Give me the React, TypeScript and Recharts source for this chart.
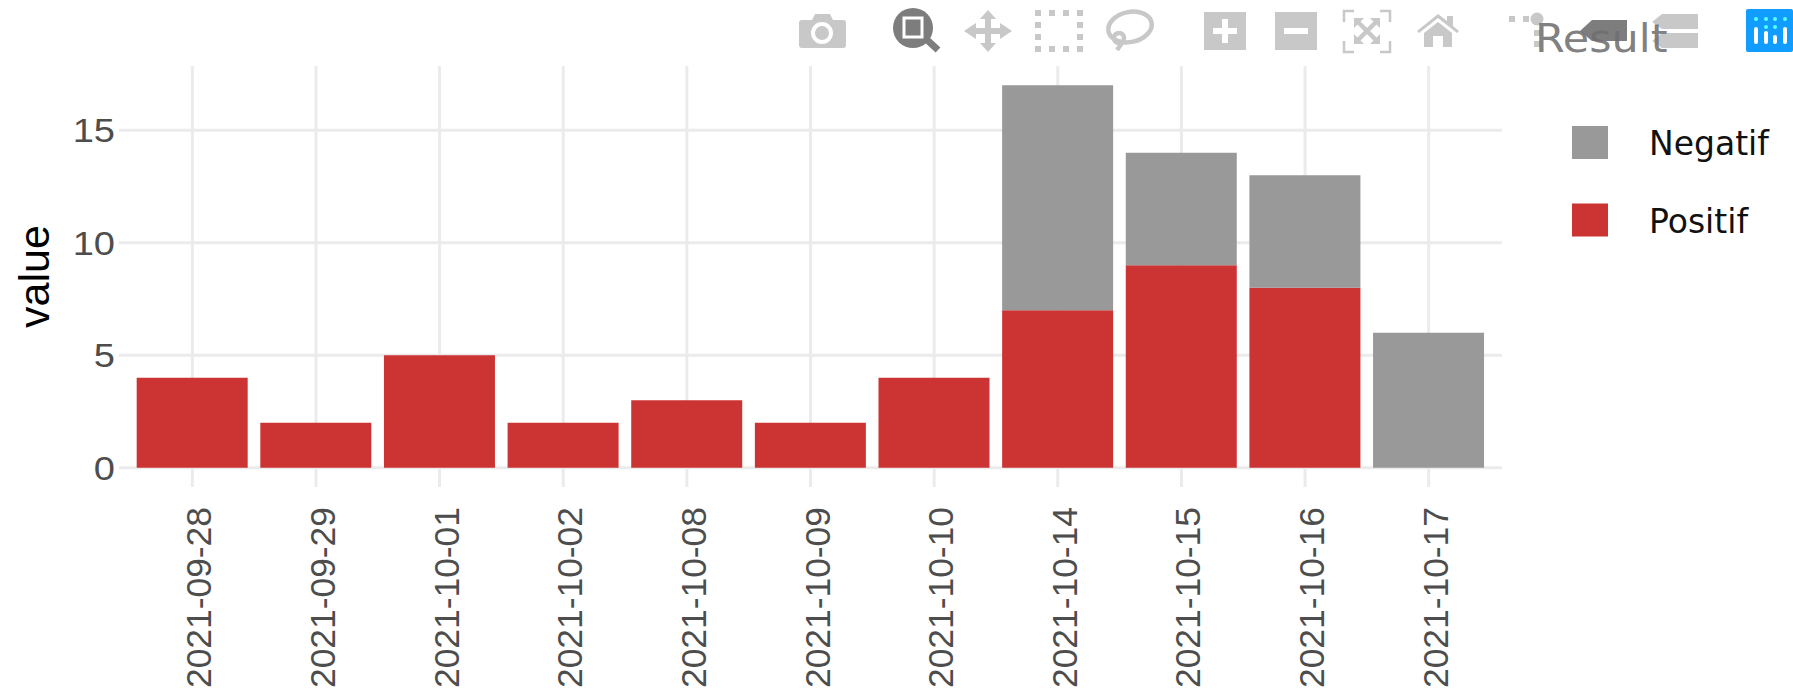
import { BarChart, Bar, XAxis, YAxis, CartesianGrid, Legend } from 'recharts';

const dates = ['2021-09-28', '2021-09-29', '2021-10-01', '2021-10-02', '2021-10-08', '2021-10-09', '2021-10-10', '2021-10-14', '2021-10-15', '2021-10-16', '2021-10-17'];
const positif = [4, 2, 5, 2, 3, 2, 4, 7, 9, 8, 0];
const negatif = [0, 0, 0, 0, 0, 0, 0, 10, 5, 5, 6];
const yTicks = [0, 5, 10, 15];
const yDomain = [-0.85, 17.85];

const chartData = dates.map((date, i) => ({ date, Positif: positif[i], Negatif: negatif[i] }));

const RED = '#cc3333';
const GREY = '#999999';
const ICON = '#c8c8c8';
const ICON_ON = '#7d7d7d';

function XTick({ x, payload }: any) {
    return (
        <text
            transform={`translate(${x + 19}, 507) rotate(-90)`}
            textAnchor="end"
            fontFamily="Liberation Sans"
            fontSize={35.4}
            fill="#4d4d4d"
        >
            {payload.value}
        </text>
    );
}

function YTick({ y, payload }: any) {
    return (
        <text
            transform={`translate(115, ${y + 12}) scale(1.12, 1)`}
            textAnchor="end"
            fontFamily="Liberation Sans"
            fontSize={34}
            fill="#4d4d4d"
        >
            {payload.value}
        </text>
    );
}

function ResultLegend({ payload }: any) {
    return (
        <svg width={221} height={130} style={{ display: 'block', overflow: 'visible' }}>
            {(payload || []).map((item: any, i: number) => (
                <g key={item.value} transform={`translate(0, ${i * 77.5})`}>
                    <rect x={0} y={0} width={36} height={33} fill={item.color} />
                    <text x={77} y={29} fontFamily="DejaVu Sans" fontSize={33} fill="#111">
                        {item.value}
                    </text>
                </g>
            ))}
        </svg>
    );
}

// plotly modebar, drawn behind the legend title
function Modebar() {
    return (
        <svg width={1793} height={66} style={{ position: 'absolute', left: 0, top: 0 }}>
            {/* camera */}
            <path d="M802 20h10l3-6h15l3 6h10a3 3 0 0 1 3 3v22a3 3 0 0 1-3 3h-41a3 3 0 0 1-3-3v-22a3 3 0 0 1 3-3z" fill={ICON} />
            <circle cx={822} cy={33} r={9} fill={ICON} stroke="#fff" strokeWidth={4} />
            {/* zoom */}
            <circle cx={913} cy={28} r={20} fill={ICON_ON} />
            <line x1={925} y1={38} x2={938} y2={50} stroke={ICON_ON} strokeWidth={7} />
            <rect x={904} y={18} width={18} height={19} fill={ICON_ON} stroke="#fff" strokeWidth={3} />
            {/* pan */}
            <path d="M988 10l8 9h-5v9h9v-5l12 8-12 8v-5h-9v9h5l-8 9-8-9h5v-9h-9v5l-12-8 12-8v5h9v-9h-5z" fill={ICON} />
            {/* box select */}
            <path d="M1035 10h6v6h-6zM1049 10h6v6h-6zM1063 10h6v6h-6zM1077 10h6v6h-6zM1035 46h6v6h-6zM1049 46h6v6h-6zM1063 46h6v6h-6zM1077 46h6v6h-6zM1035 22h6v6h-6zM1035 34h6v6h-6zM1077 22h6v6h-6zM1077 34h6v6h-6z" fill={ICON} />
            {/* lasso */}
            <g fill="none" stroke={ICON} strokeWidth={4.5}>
                <ellipse cx={1130} cy={27} rx={22} ry={15} transform="rotate(-12 1130 27)" />
                <circle cx={1119} cy={38} r={5} />
                <line x1={1122} y1={43} x2={1117} y2={50} />
            </g>
            {/* zoom in, zoom out */}
            <rect x={1204} y={12} width={42} height={38} fill={ICON} />
            <path d="M1213 28h9v-9h6v9h9v6h-9v9h-6v-9h-9z" fill="#fff" />
            <rect x={1275} y={12} width={42} height={38} fill={ICON} />
            <rect x={1284} y={28} width={24} height={6} fill="#fff" />
            {/* autoscale */}
            <path d="M1344 22v-11h10M1380 11h10v11M1344 41v11h10M1380 52h10v-11" fill="none" stroke={ICON} strokeWidth={2.5} />
            <path d="M1357 21l20 20M1377 21l-20 20" fill="none" stroke={ICON} strokeWidth={4.5} />
            <path d="M1354 18h10l-10 10zM1380 18h-10l10 10zM1354 44h10l-10-10zM1380 44h-10l10-10z" fill={ICON} />
            {/* home */}
            <path d="M1417 31l21-17 9 7v-5h6v10l6 5-2 2-19-15-19 15z M1424 33l14-11 14 11v14h-9v-11h-10v11h-9z" fill={ICON} />
            {/* spikelines */}
            <circle cx={1537} cy={19} r={6.5} fill={ICON} />
            <path d="M1509 16h6v6h-6zM1523 16h6v6h-6zM1534 30h6v6h-6zM1534 41h6v6h-6z" fill={ICON} />
            {/* hover closest */}
            <path d="M1592 20h35v21h-35l-12-10z" fill={ICON_ON} />
            {/* hover compare */}
            <path d="M1662 14h36v15h-36l-10-7z M1662 33h36v15h-36l-10-7z" fill={ICON} />
            {/* plotly logo */}
            <rect x={1746} y={9} width={47} height={43} rx={2} fill="#119dff" />
            <g fill="#fff">
                <rect x={1754} y={27} width={4} height={17} rx={2} />
                <rect x={1764} y={31} width={4} height={13} rx={2} />
                <rect x={1773} y={35} width={4} height={9} rx={2} />
                <rect x={1783} y={27} width={4} height={17} rx={2} />
            </g>
            <g fill="#5ff">
                <circle cx={1756} cy={19} r={2} />
                <circle cx={1766} cy={19} r={2} />
                <circle cx={1775} cy={19} r={2} />
                <circle cx={1785} cy={19} r={2} />
                <circle cx={1766} cy={27} r={2} />
                <circle cx={1775} cy={27} r={2} />
            </g>
        </svg>
    );
}

export default function App() {
    return (
        <div style={{ position: 'absolute', left: 0, top: 0, width: 1793, height: 693, background: '#fff', overflow: 'hidden' }}>
            <Modebar />
            <div style={{ position: 'absolute', left: 0, top: 0 }}>
                <BarChart
                    width={1793}
                    height={693}
                    data={chartData}
                    barCategoryGap="5%"
                    margin={{ top: 66, right: 291, bottom: 0, left: 0 }}
                >
                    <CartesianGrid stroke="#ebebeb" strokeWidth={3} syncWithTicks />
                    <XAxis
                        dataKey="date"
                        height={206}
                        interval={0}
                        axisLine={false}
                        tickLine={false}
                        padding={{ left: 11.5, right: 11.5 }}
                        tick={<XTick />}
                    />
                    <YAxis
                        width={119}
                        type="number"
                        domain={yDomain}
                        ticks={yTicks}
                        allowDataOverflow
                        axisLine={false}
                        tickLine={false}
                        tick={<YTick />}
                        label={{
                            value: 'value',
                            angle: -90,
                            position: 'insideLeft',
                            offset: 0,
                            dx: 34,
                            style: { fontFamily: 'Liberation Sans', fontSize: 43, fill: '#000', textAnchor: 'middle' },
                        }}
                    />
                    <Bar dataKey="Positif" stackId="result" fill={RED} isAnimationActive={false} />
                    <Bar dataKey="Negatif" stackId="result" fill={GREY} isAnimationActive={false} />
                    <Legend
                        layout="vertical"
                        align="center"
                        verticalAlign="middle"
                        content={<ResultLegend />}
                        wrapperStyle={{ position: 'absolute', left: 1572, top: 126, width: 221, height: 130 }}
                    />
                    <text fontFamily="DejaVu Sans" fontSize={39} fill="#6f6f6f" fillOpacity={0.9} transform="translate(1535 52) scale(1.1 1)">
                        Result
                    </text>
                </BarChart>
            </div>
        </div>
    );
}
